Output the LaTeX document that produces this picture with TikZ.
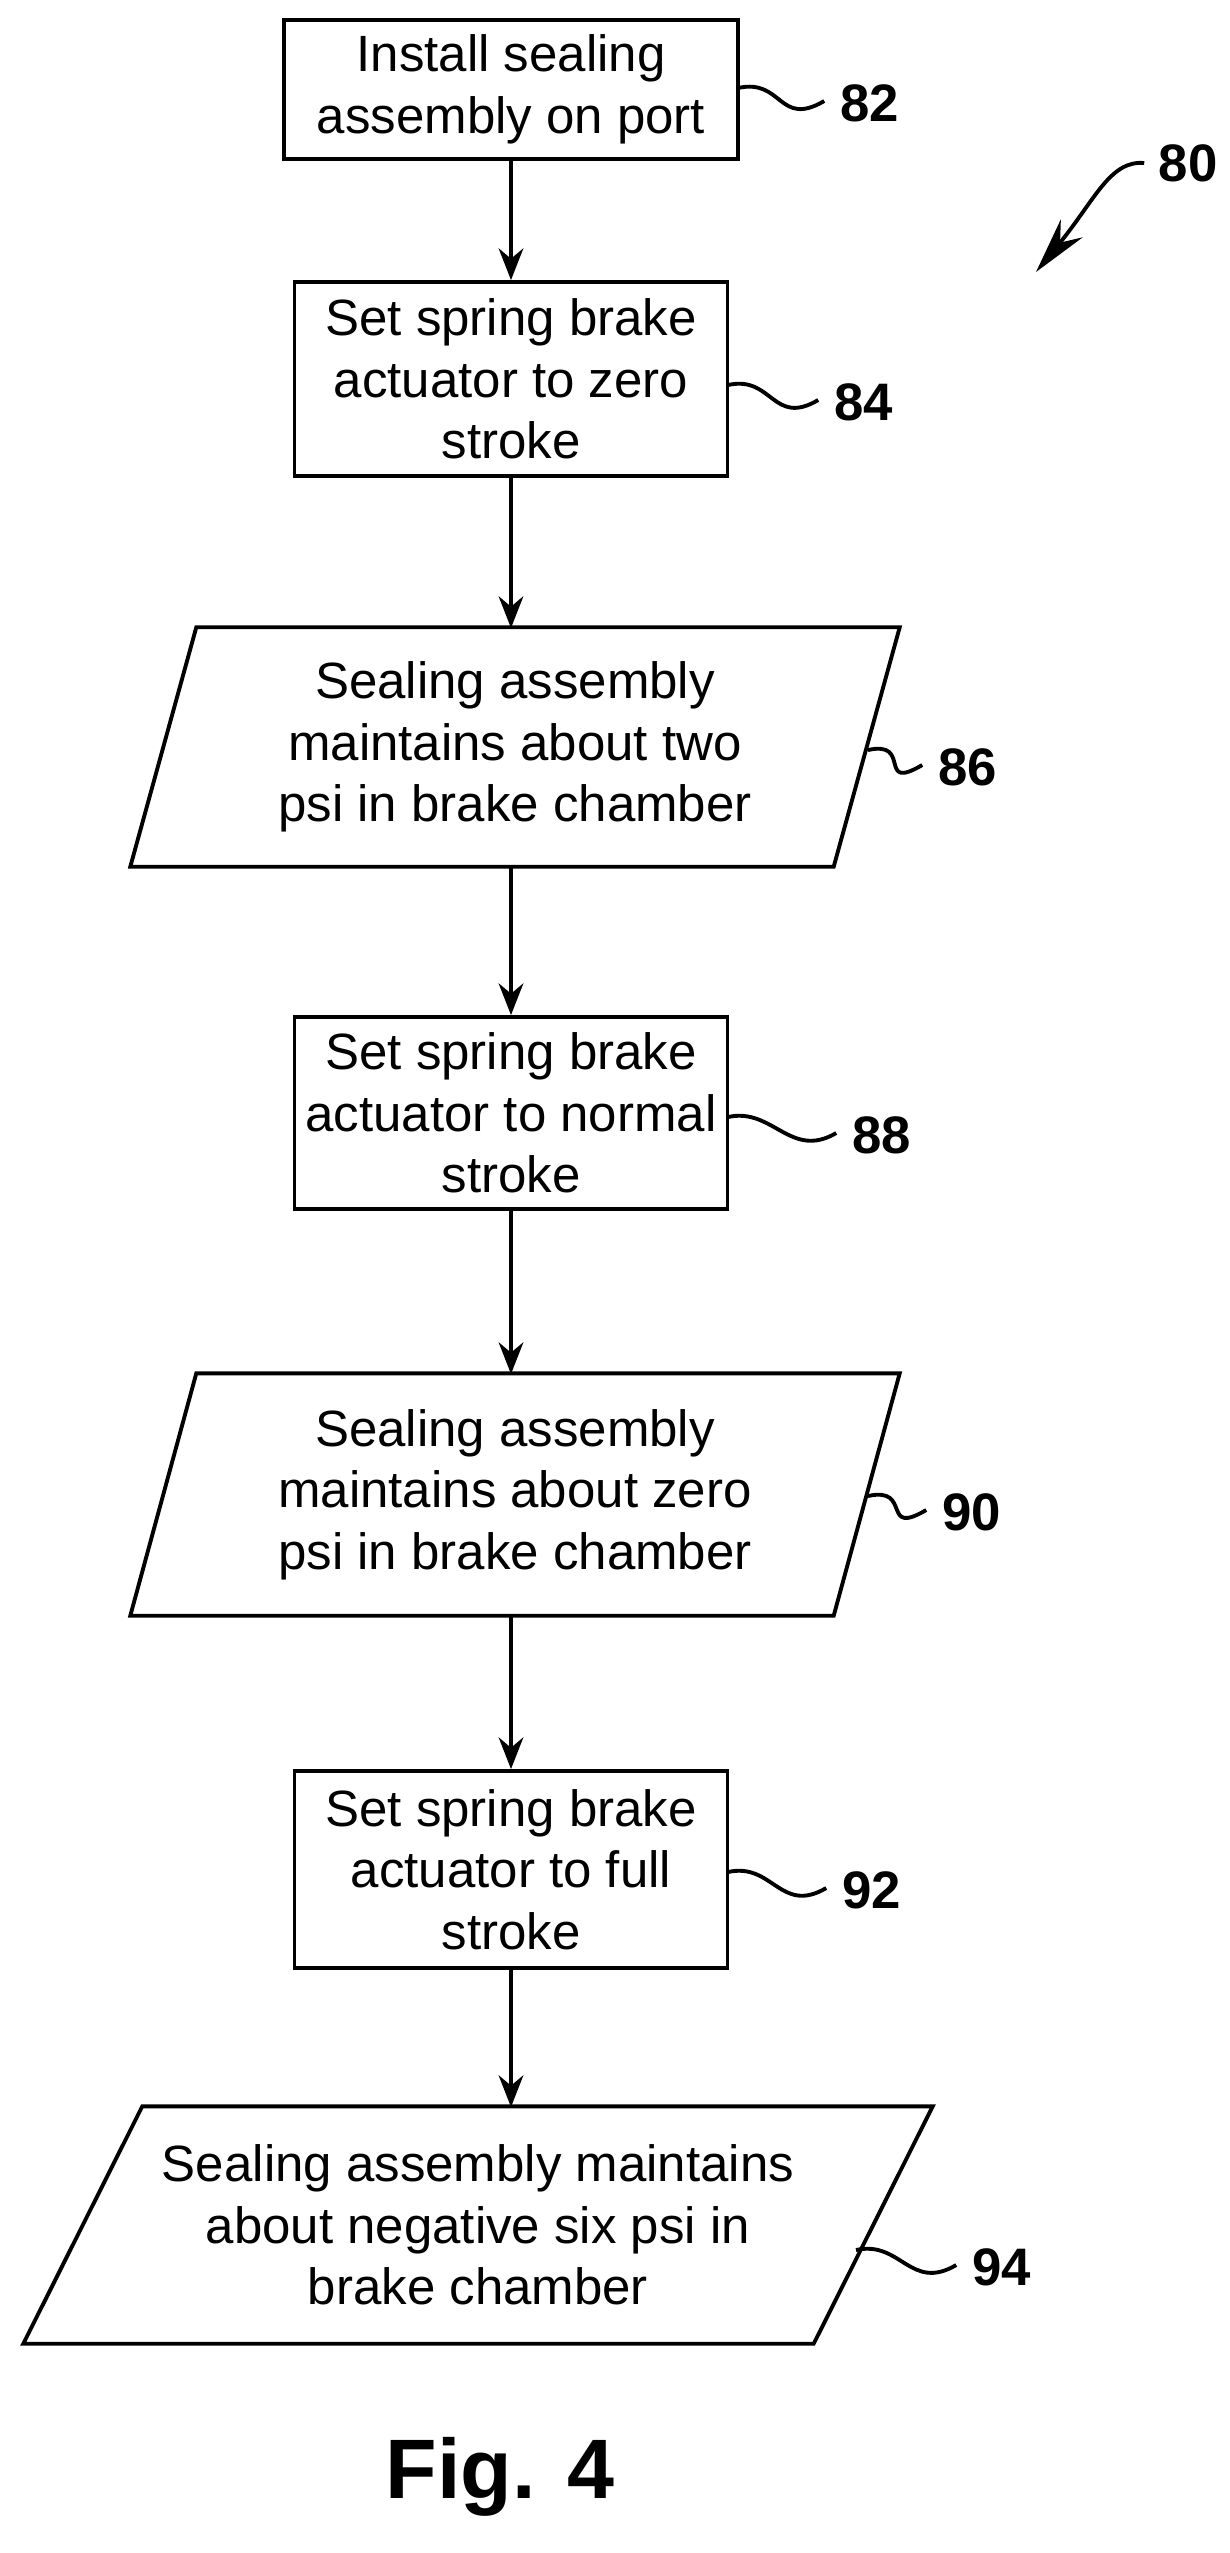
\documentclass[tikz,border=0pt]{standalone}
\usepackage{fontspec}
\setmainfont{Liberation Sans}
\usetikzlibrary{arrows.meta,calc}
\begin{document}
\begin{tikzpicture}[x=0.01cm,y=-0.01cm,
  every node/.style={font=\fontsize{14.5}{17.5}\selectfont},
  box/.style={draw,line width=1.1pt,align=center,inner sep=0pt},
  para/.style={align=center,inner sep=0pt},
  lbl/.style={font=\fontsize{15}{18}\selectfont\bfseries},
  arr/.style={line width=1.1pt,-{Stealth[length=9pt,width=7pt]}},
  sq/.style={line width=1.1pt}]
\useasboundingbox (0,0) rectangle (1230,2553);
\node[box,minimum width=454*0.01cm,minimum height=139*0.01cm] (b82) at (511,89.5) {Install sealing\\assembly on port};
\node[box,minimum width=433*0.01cm,minimum height=194*0.01cm] (b84) at (511,379) {Set spring brake\\actuator to zero\\stroke};
\node[para,minimum width=636*0.01cm,minimum height=238*0.01cm] (b86) at (515,747) {Sealing assembly\\maintains about two\\psi in brake chamber};
\draw[line width=1.1pt] (b86.north west) -- ($(b86.north east)+(66,0)$) -- (b86.south east) -- ($(b86.south west)-(66,0)$) -- cycle;
\node[box,minimum width=433*0.01cm,minimum height=192*0.01cm] (b88) at (511,1113) {Set spring brake\\actuator to normal\\stroke};
\node[para,minimum width=636*0.01cm,minimum height=241*0.01cm] (b90) at (515,1494.5) {Sealing assembly\\maintains about zero\\psi in brake chamber};
\draw[line width=1.1pt] (b90.north west) -- ($(b90.north east)+(66,0)$) -- (b90.south east) -- ($(b90.south west)-(66,0)$) -- cycle;
\node[box,minimum width=433*0.01cm,minimum height=197*0.01cm] (b92) at (511,1869.5) {Set spring brake\\actuator to full\\stroke};
\node[para,minimum width=670*0.01cm,minimum height=236*0.01cm] (b94) at (478,2225) {Sealing assembly maintains\\about negative six psi in\\brake chamber};
\draw[line width=1.1pt] (b94.north west) -- ($(b94.north east)+(119,0)$) -- (b94.south east) -- ($(b94.south west)-(119,0)$) -- cycle;
\coordinate (t86) at (511,628); \coordinate (f86) at (511,866);
\coordinate (t90) at (511,1374); \coordinate (f90) at (511,1615);
\coordinate (t94) at (511,2107);
\draw[arr] (b82.south) -- (b84.north);
\draw[arr] (b84.south) -- (t86);
\draw[arr] (f86) -- (b88.north);
\draw[arr] (b88.south) -- (t90);
\draw[arr] (f90) -- (b92.north);
\draw[arr] (b92.south) -- (t94);
% labels
\node[lbl] (l82) at (870,103) {82};
\node[lbl] (l84) at (864,402) {84};
\node[lbl] (l86) at (968,767) {86};
\node[lbl] (l88) at (882,1135) {88};
\node[lbl] (l90) at (972,1512) {90};
\node[lbl] (l92) at (872,1890) {92};
\node[lbl] (l94) at (1002,2267) {94};
\node[lbl] (l80) at (1188,163) {80};
\coordinate (s82) at (738,88); \coordinate (s84) at (728,385);
\coordinate (s86) at (868,750); \coordinate (s88) at (728,1117);
\coordinate (s90) at (868,1496); \coordinate (s92) at (728,1872);
\coordinate (s94) at (856,2250);
\foreach \s/\l in {s82/l82,s84/l84,s86/l86,s88/l88,s90/l90,s92/l92,s94/l94}{
  \draw[sq] (\s) .. controls ($(\s)+(45,-10)$) and ($(\l.west)+(-50,25)$) .. ($(\l.west)+(-4,-2)$);
}
\coordinate (a80) at (1036,272);
\draw[line width=1.1pt,-{Stealth[length=16pt,width=8pt]}] ($(l80.west)+(-2,0)$) .. controls (1110,160) and (1095,200) .. (a80);
\node[font=\fontsize{24}{28}\selectfont\bfseries] (fig) at (500,2477) {Fig. 4};
\end{tikzpicture}
\end{document}
